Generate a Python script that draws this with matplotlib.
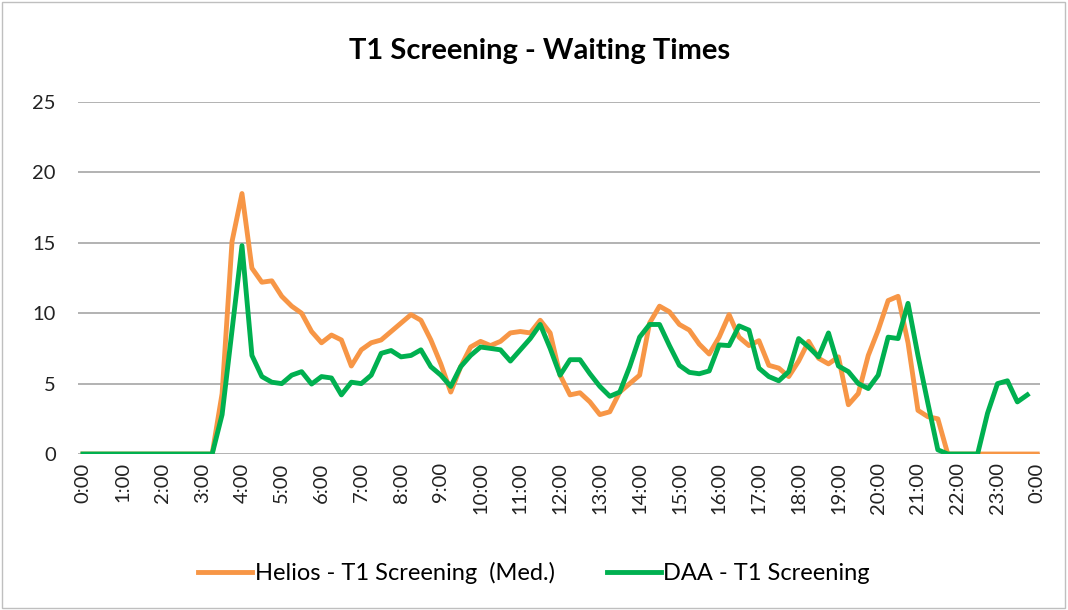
import matplotlib.pyplot as plt
from matplotlib.patches import Rectangle

# 15-minute slots from 0:00 to 0:00 next day
helios = [0, 0, 0, 0, 0, 0, 0, 0, 0, 0, 0, 0, 0,
          0, 4.3, 15.1, 18.5, 13.2, 12.2, 12.3, 11.2, 10.5, 10.0, 8.7,
          7.9, 8.45, 8.1, 6.25, 7.4, 7.9, 8.1, 8.7, 9.3, 9.9, 9.5, 8.1,
          6.4, 4.4, 6.2, 7.6, 8.0, 7.7, 8.0, 8.6, 8.7, 8.6, 9.5, 8.6,
          5.6, 4.2, 4.35, 3.7, 2.8, 3.0, 4.4, 5.0, 5.6, 9.3, 10.5, 10.1,
          9.2, 8.8, 7.8, 7.1, 8.3, 9.9, 8.3, 7.7, 8.05, 6.3, 6.1, 5.5,
          6.6, 8.0, 6.8, 6.4, 6.9, 3.5, 4.3, 7.0, 8.8, 10.9, 11.2, 7.9,
          3.1, 2.65, 2.5, 0, 0, 0, 0, 0, 0, 0, 0, 0, 0]

daa = [0, 0, 0, 0, 0, 0, 0, 0, 0, 0, 0, 0, 0,
       0, 2.8, 8.8, 14.8, 7.0, 5.5, 5.1, 5.0, 5.6, 5.85, 4.97,
       5.5, 5.4, 4.2, 5.1, 5.0, 5.6, 7.15, 7.35, 6.9, 7.0, 7.4, 6.2,
       5.6, 4.8, 6.2, 7.0, 7.6, 7.5, 7.4, 6.6, 7.4, 8.2, 9.2, 7.5,
       5.6, 6.7, 6.7, 5.7, 4.8, 4.1, 4.4, 6.2, 8.3, 9.2, 9.2, 7.7,
       6.3, 5.8, 5.7, 5.9, 7.75, 7.7, 9.1, 8.8, 6.1, 5.5, 5.2, 5.85,
       8.2, 7.6, 6.9, 8.6, 6.25, 5.85, 5.0, 4.65, 5.6, 8.3, 8.2, 10.7,
       7.0, 3.6, 0.3, 0, 0, 0, 0, 2.9, 5.0, 5.2, 3.7, 4.2]

hour_labels = ['%d:00' % h for h in range(24)] + ['0:00']

plt.rcParams['font.family'] = ['Lato', 'DejaVu Sans']

fig = plt.figure(figsize=(10.68, 6.10), dpi=100)
ax = fig.add_axes([0.073, 0.2557, 0.901, 0.5771])

ax.plot(range(len(helios)), helios, color='#F79646', lw=3.5, label='Helios - T1 Screening  (Med.)')
ax.plot(range(len(daa)), daa, color='#00B050', lw=3.5, label='DAA - T1 Screening')

ax.set_ylim(0, 25)
ax.set_yticks(range(0, 26, 5))
ax.set_xlim(-0.5, 96.3)
ax.set_xticks(range(0, 97, 4))
ax.set_xticklabels(hour_labels, rotation=90)
ax.tick_params(length=0, labelsize=14.5, colors='#222222')
ax.tick_params(axis='y', pad=16)
ax.tick_params(axis='x', pad=6)
ax.grid(axis='y', color='#A6A6A6', lw=1.2)
ax.set_axisbelow(True)
for s in ['top', 'right', 'left', 'bottom']:
    ax.spines[s].set_visible(False)

fig.suptitle('T1 Screening - Waiting Times', x=0.505, y=0.938, fontsize=21, fontweight='bold')
fig.legend(loc='center', bbox_to_anchor=(0.5, 0.06), ncol=2, frameon=False,
           fontsize=17, handlelength=2.3, handletextpad=0.1, columnspacing=2.2)

fig.patches.append(Rectangle((0.002, 0.003), 0.995, 0.993, transform=fig.transFigure,
                             fill=False, edgecolor='#BFBFBF', lw=1))

fig.savefig('out.png', dpi=100)
